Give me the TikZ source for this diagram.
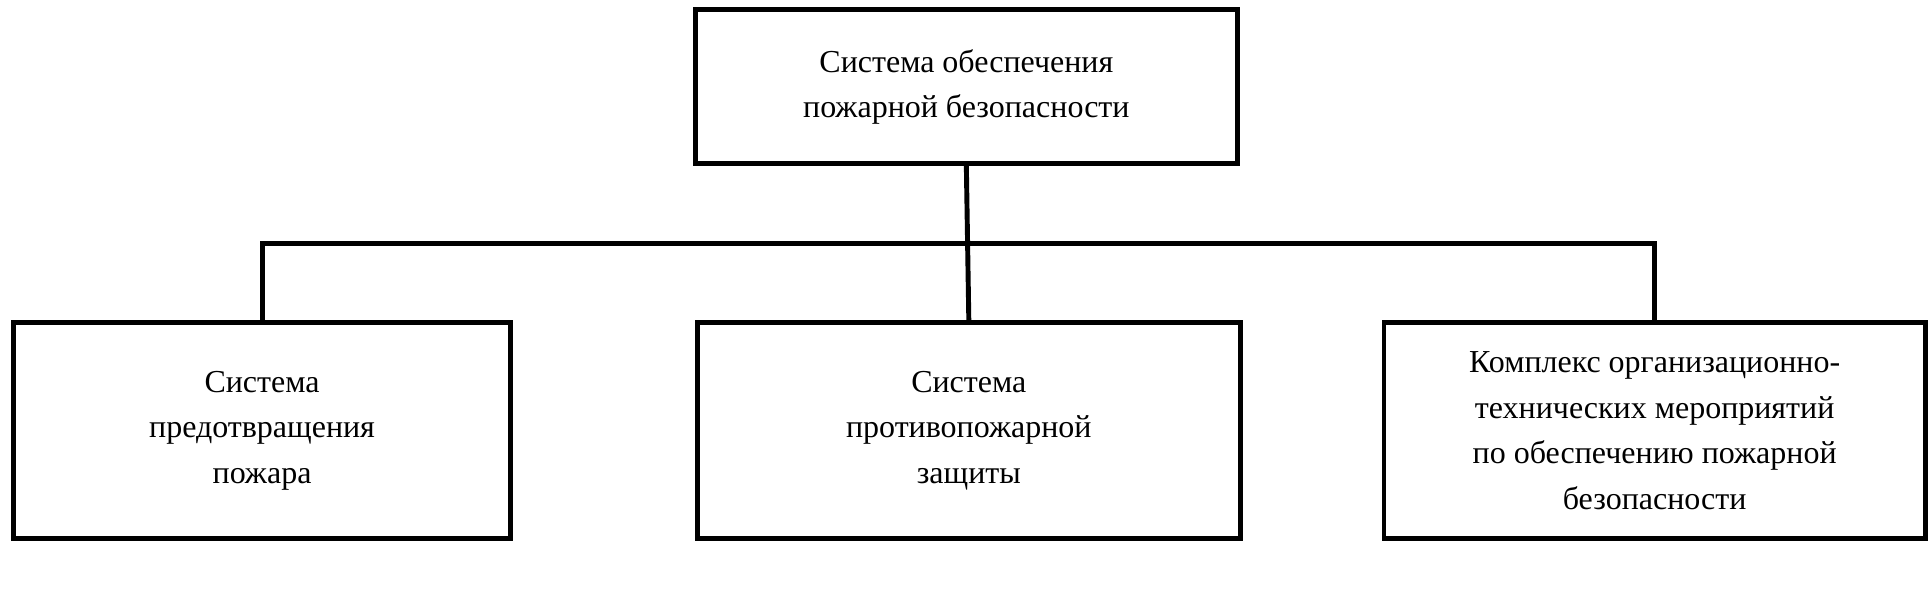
\documentclass[tikz,border=0pt]{standalone}
\usepackage{fontspec}
\setmainfont{Liberation Serif}
\usetikzlibrary{positioning}
\tikzset{block/.style={draw, line width=2pt, align=center, font=\fontsize{13}{18.5}\selectfont, inner sep=0pt},
         link/.style={line width=2pt}}
\begin{document}
\begin{tikzpicture}[x=0.5pt, y=-0.5pt]
  \useasboundingbox (0,0) rectangle (1568,497);
  \node[block, minimum width=220.5pt, minimum height=62.5pt] (top) at (785.5,70.5) {Система обеспечения\\пожарной безопасности};
  \node[block, minimum width=202pt, minimum height=88pt] (left) at (213,350) {Система\\предотвращения\\пожара};
  \node[block, minimum width=220.5pt, minimum height=88pt] (mid) at (787.5,350) {Система\\противопожарной\\защиты};
  \node[block, minimum width=220pt, minimum height=88pt] (right) at (1345,350) {Комплекс организационно-\\технических мероприятий\\по обеспечению пожарной\\безопасности};
  \coordinate (bus) at (787,198);
  \draw[link] (top.south) -- (mid.north);
  \draw[link] (left.north) |- (bus) -| (right.north);
\end{tikzpicture}
\end{document}
